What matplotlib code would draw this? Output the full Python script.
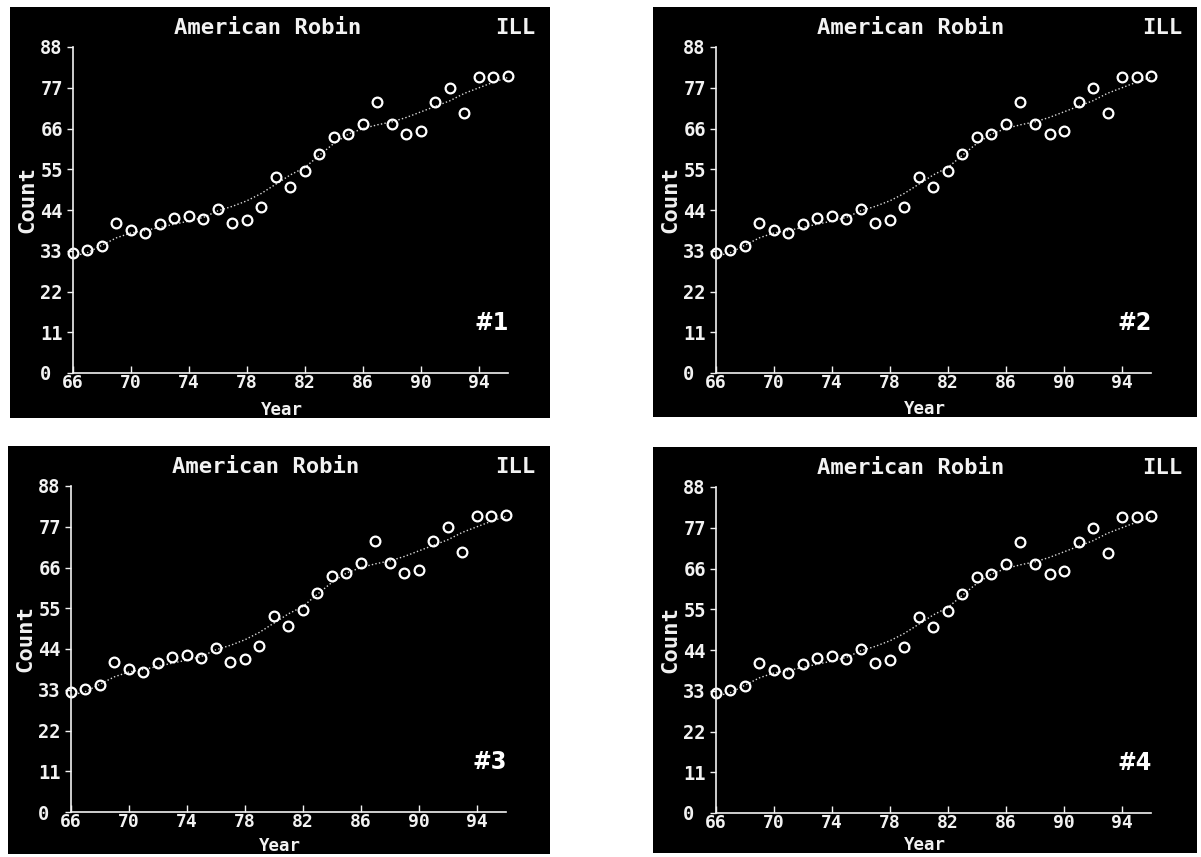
import numpy as np
import matplotlib.pyplot as plt

plt.rcParams['font.family'] = ['DejaVu Sans Mono']

# yearly counts (same data in all four prints)
years = list(range(66, 97))
counts = [32.4, 33.2, 34.2, 40.5, 38.7, 37.8, 40.1, 41.8, 42.4, 41.7,
          44.3, 40.4, 41.3, 44.9, 52.8, 50.3, 54.6, 59.0, 63.7, 64.4,
          67.2, 73.2, 67.2, 64.5, 65.4, 73.2, 76.9, 70.1, 79.8, 80.0, 80.2]
# dotted smoothed trend
trend = [31.5, 32.5, 34.5, 36.5, 37.8, 38.5, 39.3, 40.2, 41.0, 42.0,
         43.8, 45.0, 46.5, 48.5, 51.0, 53.5, 55.5, 58.8, 62.0, 64.5,
         66.0, 67.0, 67.8, 69.0, 70.5, 72.0, 73.5, 75.5, 77.0, 78.5, 79.8]
x_ticks = [66, 70, 74, 78, 82, 86, 90, 94]
y_ticks = [0, 11, 22, 33, 44, 55, 66, 77, 88]
tags = ['#1', '#2', '#3', '#4']

W, H = 1201, 857
# panel rectangles in pixels: left, top, width, height
panels = [(10, 7, 540, 411), (653, 7, 544, 410),
          (8, 446, 542, 408), (653, 447, 544, 406)]

fig = plt.figure(figsize=(W / 100, H / 100), dpi=100)
fig.patch.set_facecolor('white')

fg = '#f2f2f2'

for (px, py, pw, ph), tag in zip(panels, tags):
    bg = fig.add_axes([px / W, 1 - (py + ph) / H, pw / W, ph / H])
    bg.set_facecolor('black')
    bg.set_xticks([])
    bg.set_yticks([])
    for s in bg.spines.values():
        s.set_visible(False)
    bg.set_xlim(0, pw)
    bg.set_ylim(ph, 0)

    bg.text(258, 21, 'American Robin', color=fg, fontsize=16, fontweight='bold',
            ha='center', va='center')
    bg.text(pw - 15, 21, 'ILL', color=fg, fontsize=16, fontweight='bold',
            ha='right', va='center')
    bg.text(17, 193, 'Count', color=fg, fontsize=16, fontweight='bold',
            rotation=90, ha='center', va='center')
    bg.text(272, ph - 8, 'Year', color=fg, fontsize=12.5, fontweight='bold',
            ha='center', va='center')
    bg.text(499, 316, tag, color='white', fontsize=18, fontweight='bold',
            family=['DejaVu Sans'], fontstretch='condensed',
            ha='right', va='center')

    ax = fig.add_axes([(px + 63) / W, 1 - (py + 366) / H, 435 / W, 326 / H])
    ax.patch.set_alpha(0)
    ax.plot(years, trend, color='#d8d8d8', lw=1.0, linestyle=(0, (1, 1.6)))
    ax.plot(years, counts, 'o', mfc='none', mec='white', ms=7, mew=1.6,
            clip_on=False)
    ax.set_xlim(66, 96)
    ax.set_ylim(0, 88)
    for side in ['top', 'right']:
        ax.spines[side].set_visible(False)
    for side in ['left', 'bottom']:
        ax.spines[side].set_color(fg)
        ax.spines[side].set_linewidth(1.2)
    ax.set_xticks(x_ticks, [str(v) for v in x_ticks], fontweight='bold')
    ax.set_yticks(y_ticks, [str(v) for v in y_ticks], fontweight='bold', ha='left')
    ax.tick_params(axis='x', direction='in', length=5, width=1, colors=fg,
                   labelsize=13, pad=1)
    ax.tick_params(axis='y', direction='out', length=4, width=1, colors=fg,
                   labelsize=13.5, pad=19.5)

plt.savefig('out.png', dpi=100, facecolor='white')
